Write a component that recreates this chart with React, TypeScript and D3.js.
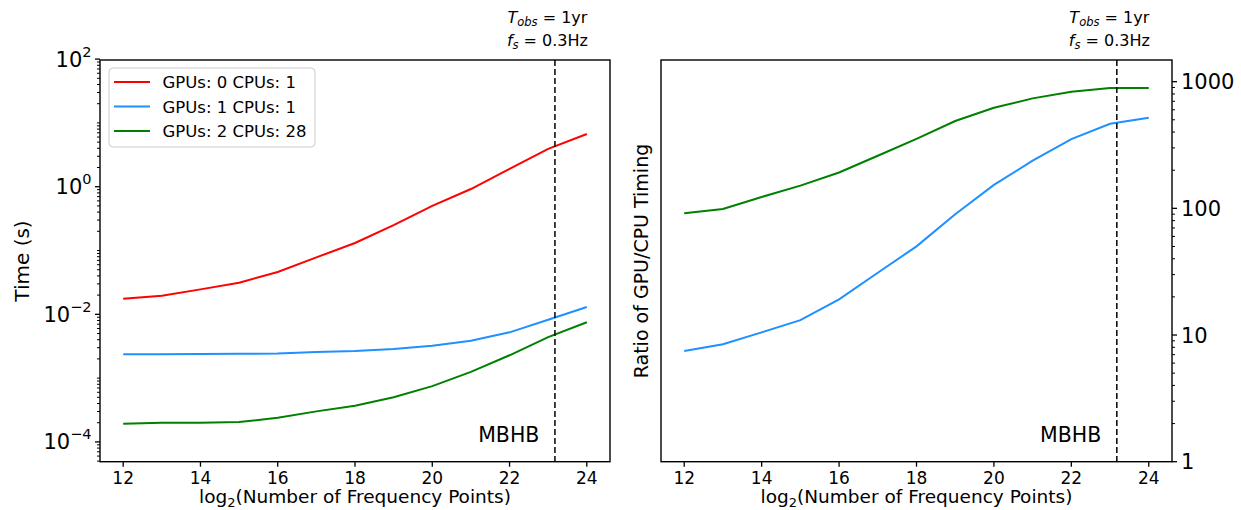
import React from "react";
import * as d3 from "d3";

const logN = [12, 13, 14, 15, 16, 17, 18, 19, 20, 21, 22, 23, 24];
const seriesNames = ["GPUs: 0 CPUs: 1", "GPUs: 1 CPUs: 1", "GPUs: 2 CPUs: 28"];
const seriesColors = ["#ff0000", "#1e90ff", "#008000"];
const timeCpu1 = [0.0176, 0.0196, 0.0246, 0.0313, 0.046, 0.078, 0.131, 0.25, 0.5, 0.92, 1.9, 3.92, 6.7];
const timeGpu1 = [0.00236, 0.00236, 0.00238, 0.0024, 0.00243, 0.00257, 0.00266, 0.00286, 0.00322, 0.00386, 0.00522, 0.0082, 0.013];
const timeGpu2 = [0.000193, 0.0002, 0.0002, 0.000205, 0.000239, 0.000301, 0.000369, 0.0005, 0.00075, 0.00125, 0.00228, 0.0044, 0.0075];
const ratioGpu1 = [7.48, 8.45, 10.5, 13.1, 19.1, 31, 50.1, 89.7, 153, 238, 352, 465, 519];
const ratioGpu2 = [91.3, 98.7, 123, 151, 192, 260, 354, 489, 622, 738, 832, 890, 890];
const xTicks = [12, 14, 16, 18, 20, 22, 24];
const leftYTickExps = [-4, -2, 0, 2];
const rightYTicks = [1, 10, 100, 1000];
const mbhbX = Math.log2(365.25 * 86400 * 0.3);

const FONT = "DejaVu Sans";
const W = 1241;
const H = 510;
const TOP = 60;
const BOTTOM = 461.7;

function minorTicks(lo: number, hi: number, skip: (v: number) => boolean) {
  const out: number[] = [];
  for (let e = Math.floor(Math.log10(lo)) - 1; e <= Math.ceil(Math.log10(hi)); e++) {
    for (let k = 1; k <= 9; k++) {
      const v = k * Math.pow(10, e);
      if (v >= lo * 0.999 && v <= hi * 1.001 && !skip(v)) out.push(v);
    }
  }
  return out;
}

function Annotation({ x }: { x: number }) {
  const cx = x - 7.5;
  return (
    <g fontFamily={FONT} fontSize={16} fill="#000" textAnchor="middle">
      <text x={cx} y={23}>
        <tspan fontStyle="italic">T</tspan>
        <tspan fontStyle="italic" fontSize={11.5} dy={3}>obs</tspan>
        <tspan dy={-3}> = 1yr</tspan>
      </text>
      <text x={cx} y={46}>
        <tspan fontStyle="italic">f</tspan>
        <tspan fontStyle="italic" fontSize={11.5} dy={3}>s</tspan>
        <tspan dy={-3}> = 0.3Hz</tspan>
      </text>
    </g>
  );
}

function XAxis({ x }: { x: d3.ScaleLinear<number, number> }) {
  const [r0, r1] = x.range();
  return (
    <g fontFamily={FONT}>
      {xTicks.map((t) => (
        <g key={t}>
          <line x1={x(t)} x2={x(t)} y1={BOTTOM} y2={BOTTOM + 5} stroke="#000" strokeWidth={1.3} />
          <text x={x(t)} y={BOTTOM + 22} fontSize={17} textAnchor="middle">{t}</text>
        </g>
      ))}
      <text x={(r0 + r1) / 2} y={503} fontSize={18.5} textAnchor="middle">
        log<tspan fontSize={13} dy={4}>2</tspan><tspan dy={-4}>(Number of Frequency Points)</tspan>
      </text>
    </g>
  );
}

function Frame({ x0, x1 }: { x0: number; x1: number }) {
  return <rect x={x0} y={TOP} width={x1 - x0} height={BOTTOM - TOP} fill="none" stroke="#000" strokeWidth={1.4} />;
}

export default function App() {
  // Left panel
  const xL = d3.scaleLinear().domain([11.4, 24.6]).range([100, 610]);
  const yL = d3.scaleLog().domain([Math.pow(10, -4.31), Math.pow(10, 1.986)]).range([BOTTOM, TOP]);
  // Right panel
  const xR = d3.scaleLinear().domain([11.4, 24.6]).range([661, 1172]);
  const yR = d3.scaleLog().domain([1, Math.pow(10, 3.171)]).range([BOTTOM, TOP]);

  const lineL = d3.line<number>().x((_, i) => xL(logN[i])).y((v) => yL(v));
  const lineR = d3.line<number>().x((_, i) => xR(logN[i])).y((v) => yR(v));

  const [ylo, yhi] = yL.domain();
  const leftMinor = minorTicks(ylo, yhi, (v) => leftYTickExps.some((e) => Math.abs(Math.log10(v) - e) < 1e-6));
  const [rlo, rhi] = yR.domain();
  const rightMinor = minorTicks(rlo, rhi, (v) => rightYTicks.some((t) => Math.abs(v - t) / t < 1e-6));

  const leftSeries = [timeCpu1, timeGpu1, timeGpu2];
  const rightSeries = [ratioGpu1, ratioGpu2];
  const rightColors = [seriesColors[1], seriesColors[2]];

  return (
    <svg width={W} height={H} style={{ position: "absolute", left: 0, top: 0, background: "#fff" }} fontFamily={FONT}>
      <rect x={0} y={0} width={W} height={H} fill="#fff" />
      {/* LEFT PANEL */}
      <g>
        {leftSeries.map((s, i) => (
          <path key={i} d={lineL(s) || ""} fill="none" stroke={seriesColors[i]} strokeWidth={2} />
        ))}
        <line x1={xL(mbhbX)} x2={xL(mbhbX)} y1={TOP} y2={BOTTOM} stroke="#111" strokeWidth={1.6} strokeDasharray="6,3" />
        <text x={xL(mbhbX) - 15.5} y={441.5} fontSize={20.5} textAnchor="end">MBHB</text>
        <Frame x0={100} x1={610} />
        {leftMinor.map((v, i) => (
          <line key={i} x1={100} x2={97} y1={yL(v)} y2={yL(v)} stroke="#000" strokeWidth={1} />
        ))}
        {leftYTickExps.map((e) => {
          const y = yL(Math.pow(10, e));
          return (
            <g key={e}>
              <line x1={100} x2={95} y1={y} y2={y} stroke="#000" strokeWidth={1.3} />
              <text x={91.5} y={y + 7.5} fontSize={21} textAnchor="end">
                10<tspan fontSize={14.5} dy={-10}>{e < 0 ? "\u2212" + Math.abs(e) : String(e)}</tspan>
              </text>
            </g>
          );
        })}
        <XAxis x={xL} />
        <text transform="translate(29,261) rotate(-90)" fontSize={20} textAnchor="middle">Time (s)</text>
        {/* legend */}
        <g>
          <rect x={109} y={68} width={206} height={79} rx={4} fill="#fff" fillOpacity={0.8} stroke="#cccccc" strokeWidth={1} />
          {seriesNames.map((n, i) => {
            const cy = 82 + i * 24.5;
            return (
              <g key={n}>
                <line x1={114} x2={150} y1={cy} y2={cy} stroke={seriesColors[i]} strokeWidth={2} />
                <text x={162.5} y={cy + 6} fontSize={16.5}>{n}</text>
              </g>
            );
          })}
        </g>
        <Annotation x={xL(mbhbX)} />
      </g>

      {/* RIGHT PANEL */}
      <g>
        {rightSeries.map((s, i) => (
          <path key={i} d={lineR(s) || ""} fill="none" stroke={rightColors[i]} strokeWidth={2} />
        ))}
        <line x1={xR(mbhbX)} x2={xR(mbhbX)} y1={TOP} y2={BOTTOM} stroke="#111" strokeWidth={1.6} strokeDasharray="6,3" />
        <text x={xR(mbhbX) - 15.5} y={441.5} fontSize={20.5} textAnchor="end">MBHB</text>
        <Frame x0={661} x1={1172} />
        {rightMinor.map((v, i) => (
          <line key={i} x1={1172} x2={1175} y1={yR(v)} y2={yR(v)} stroke="#000" strokeWidth={1} />
        ))}
        {rightYTicks.map((t) => {
          const y = yR(t);
          return (
            <g key={t}>
              <line x1={1172} x2={1177} y1={y} y2={y} stroke="#000" strokeWidth={1.3} />
              <text x={1181} y={y + 7.5} fontSize={21}>{t}</text>
            </g>
          );
        })}
        <XAxis x={xR} />
        <text transform="translate(648,261) rotate(-90)" fontSize={19} textAnchor="middle">Ratio of GPU/CPU Timing</text>
        <Annotation x={xR(mbhbX)} />
      </g>
    </svg>
  );
}
